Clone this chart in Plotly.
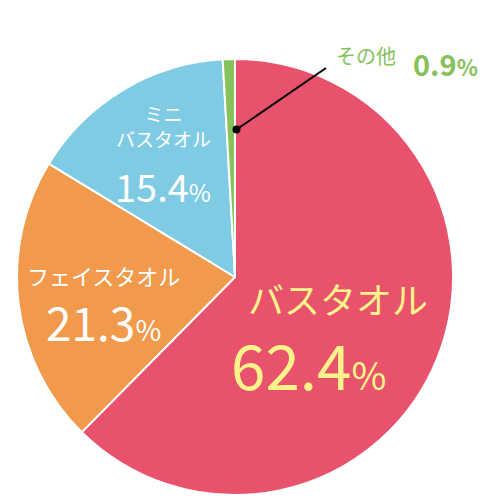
import plotly.graph_objects as go

labels = ["バスタオル", "フェイスタオル", "ミニバスタオル", "その他"]
values = [62.4, 21.3, 15.4, 0.9]
colors = ["#e8526c", "#f19a4c", "#7fcbe4", "#86c15a"]

fig = go.Figure(go.Pie(
    labels=labels, values=values, sort=False, direction="clockwise", rotation=0,
    marker=dict(colors=colors, line=dict(color="white", width=2)),
    textinfo="none", hoverinfo="label+percent", showlegend=False,
    domain=dict(x=[0.018, 0.89], y=[0.026, 0.898]),
))

F = "Noto Sans CJK JP"
def ann(x, y, text, color, size):
    return dict(x=x, y=y, xref="paper", yref="paper", text=text, showarrow=False,
                font=dict(family=F, color=color, size=size), xanchor="center", yanchor="middle")

annos = [
    ann(0.66, 0.42, "バスタオル", "#fff48a", 36),
    ann(0.60, 0.29, "62.4<span style='font-size:38px'>%</span>", "#fff48a", 62),
    ann(0.19, 0.465, "フェイスタオル", "white", 22),
    ann(0.19, 0.375, "21.3<span style='font-size:28px'>%</span>", "white", 46),
    ann(0.31, 0.765, "ミニ<br>バスタオル", "white", 19),
    ann(0.31, 0.645, "15.4<span style='font-size:24px'>%</span>", "white", 38),
    ann(0.715, 0.905, "その他", "#86c15a", 20),
    ann(0.875, 0.89, "<b>0.9<span style='font-size:22px'>%</span></b>", "#86c15a", 29),
]

fig.update_layout(
    width=500, height=500, margin=dict(l=0, r=0, t=0, b=0),
    paper_bgcolor="white", annotations=annos,
    shapes=[
        dict(type="line", xref="paper", yref="paper", x0=0.457, y0=0.757, x1=0.636, y1=0.88,
             line=dict(color="black", width=2)),
        dict(type="circle", xref="paper", yref="paper", x0=0.449, y0=0.749, x1=0.465, y1=0.765,
             fillcolor="black", line=dict(color="black", width=0)),
    ],
)
fig.write_html("out.html")
